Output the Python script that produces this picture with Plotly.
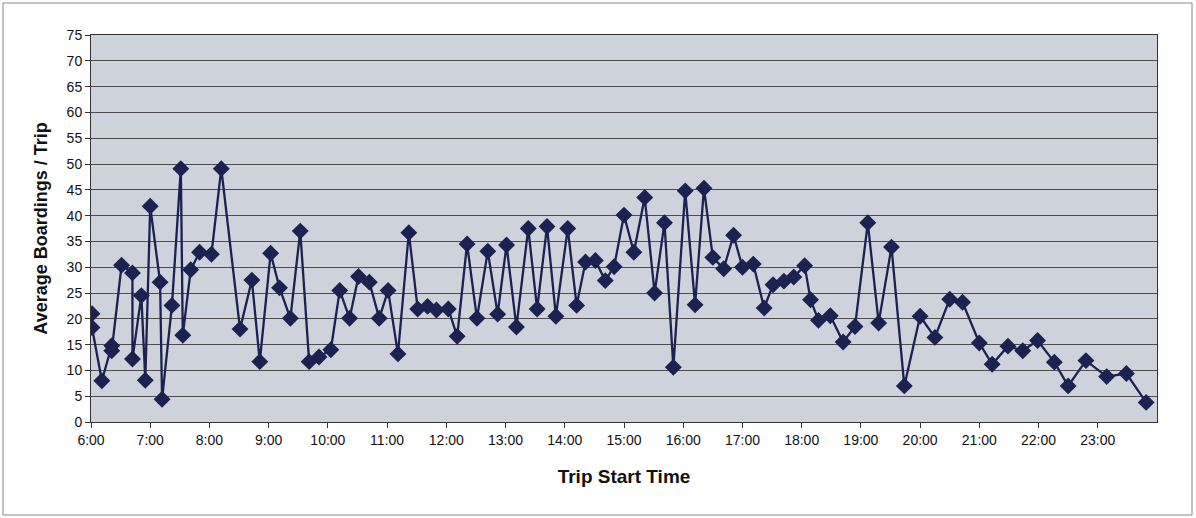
import plotly.graph_objects as go

# Trip start times (HH:MM) and average boardings per trip
start_times = [
    "06:01", "06:01", "06:11", "06:21", "06:21", "06:31", "06:42", "06:42", "06:51", "06:55",
    "07:00", "07:10", "07:12", "07:22", "07:31", "07:33", "07:41", "07:50",
    "08:02", "08:12", "08:31", "08:43", "08:51",
    "09:02", "09:11", "09:22", "09:32", "09:41", "09:51",
    "10:03", "10:12", "10:22", "10:31", "10:42", "10:52",
    "11:01", "11:11", "11:22", "11:31", "11:41", "11:50",
    "12:02", "12:11", "12:21", "12:31", "12:42", "12:52",
    "13:01", "13:11", "13:23", "13:32", "13:42", "13:51",
    "14:03", "14:12", "14:21", "14:31", "14:41", "14:50",
    "15:00", "15:10", "15:21", "15:31", "15:41", "15:50",
    "16:02", "16:12", "16:21", "16:30", "16:41", "16:51",
    "17:00", "17:11", "17:22", "17:31", "17:42", "17:52",
    "18:03", "18:09", "18:17", "18:29", "18:42", "18:54",
    "19:07", "19:18", "19:31", "19:44",
    "20:00", "20:15", "20:30", "20:43",
    "21:00", "21:13", "21:29", "21:44", "21:59",
    "22:16", "22:30", "22:48",
    "23:09", "23:29", "23:49",
]
avg_boardings = [
    21.0, 18.3, 8.0, 14.8, 13.8, 30.4, 28.9, 12.2, 24.5, 8.1,
    41.8, 27.1, 4.4, 22.6, 49.1, 16.8, 29.5, 32.9,
    32.5, 49.1, 18.0, 27.5, 11.7,
    32.7, 26.0, 20.1, 37.0, 11.7, 12.6,
    14.0, 25.5, 20.1, 28.2, 27.1, 20.1,
    25.5, 13.2, 36.7, 21.9, 22.4, 21.7,
    21.9, 16.6, 34.5, 20.1, 33.1, 20.9,
    34.3, 18.4, 37.5, 21.9, 37.9, 20.5,
    37.5, 22.6, 31.0, 31.3, 27.4, 30.1,
    40.1, 32.9, 43.5, 25.0, 38.6, 10.6,
    44.8, 22.7, 45.3, 31.9, 29.7, 36.2,
    30.0, 30.6, 22.1, 26.6, 27.3, 28.1,
    30.3, 23.7, 19.7, 20.6, 15.5, 18.5,
    38.6, 19.2, 33.9, 7.0,
    20.5, 16.4, 23.8, 23.2,
    15.3, 11.2, 14.7, 13.8, 15.8,
    11.6, 7.0, 11.9,
    8.8, 9.4, 3.8,
]

# Hour ticks along the time axis
hour_ticks = list(range(6, 24))
hour_labels = [f"{h}:00" for h in hour_ticks]


def to_hours(hhmm):
    h, m = hhmm.split(":")
    return int(h) + int(m) / 60.0


x_hours = [to_hours(t) for t in start_times]

FONT = "Liberation Sans, Arial, sans-serif"
NAVY = "#1c2150"

fig = go.Figure(
    go.Scatter(
        x=x_hours,
        y=avg_boardings,
        mode="lines+markers",
        line=dict(color=NAVY, width=2.3),
        marker=dict(symbol="diamond", size=13, color=NAVY,
                    line=dict(color=NAVY, width=0)),
        hoverinfo="skip",
    )
)

L, R, T, B = 91, 39, 35, 96
W, H = 1196, 518
pw, ph = W - L - R, H - T - B

fig.update_layout(
    width=W,
    height=H,
    margin=dict(l=L, r=R, t=T, b=B, pad=0),
    paper_bgcolor="white",
    plot_bgcolor="#ced2db",
    showlegend=False,
    font=dict(family=FONT, size=14, color="#111111"),
    shapes=[
        # Outer chart frame
        dict(type="rect", xref="paper", yref="paper",
             x0=(3 - L) / pw, x1=(1192 - L) / pw,
             y0=-(515 - T - ph) / ph, y1=1 + (T - 3) / ph,
             line=dict(color="#8a8a8a", width=1), layer="below"),
    ],
)

fig.update_xaxes(
    range=[6, 24],
    tickmode="array",
    tickvals=hour_ticks,
    ticktext=hour_labels,
    ticks="outside",
    ticklen=5,
    tickcolor="#333333",
    showgrid=False,
    zeroline=False,
    showline=True,
    linecolor="#333333",
    linewidth=1,
    mirror=True,
    tickfont=dict(family=FONT, size=14, color="#111111"),
    title=dict(text="<b>Trip Start Time</b>",
               font=dict(family=FONT, size=19, color="#111111"),
               standoff=22),
)

fig.update_yaxes(
    range=[0, 75],
    dtick=5,
    ticks="outside",
    ticklen=5,
    tickcolor="#333333",
    showgrid=True,
    gridcolor="#4e4e4e",
    gridwidth=1,
    zeroline=False,
    showline=True,
    linecolor="#333333",
    linewidth=1,
    mirror=True,
    tickfont=dict(family=FONT, size=14, color="#111111"),
    title=dict(text="<b>Average Boardings / Trip</b>",
               font=dict(family=FONT, size=18, color="#111111"),
               standoff=14),
)

fig.write_html("out.html")
